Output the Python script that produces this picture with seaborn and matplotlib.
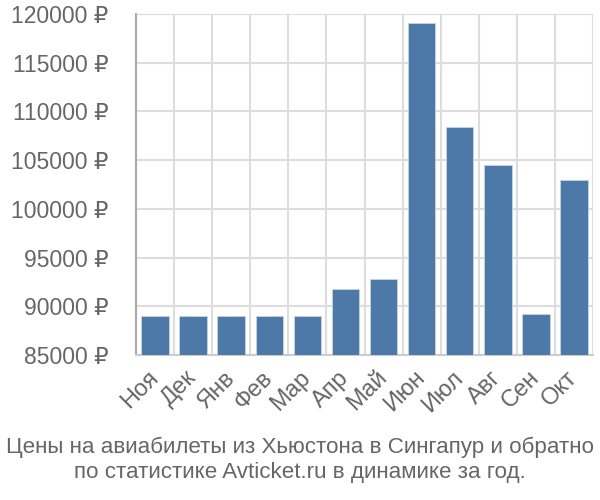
import matplotlib
matplotlib.use("Agg")
import matplotlib.pyplot as plt
import seaborn as sns
import pandas as pd
import numpy as np
from matplotlib.ticker import FixedLocator, FuncFormatter

months = ["Ноя", "Дек", "Янв", "Фев", "Мар", "Апр", "Май", "Июн", "Июл", "Авг", "Сен", "Окт"]
prices = [89000, 89000, 89000, 89000, 89000, 91800, 92800, 119100, 108400, 104500, 89200, 103000]
yticks = [85000, 90000, 95000, 100000, 105000, 110000, 115000, 120000]
caption = "Цены на авиабилеты из Хьюстона в Сингапур и обратно\nпо статистике Avticket.ru в динамике за год."

sns.set_style("white")
plt.rcParams['font.family'] = ['Liberation Sans', 'DejaVu Sans']

df = pd.DataFrame({"month": months, "price": prices})

fig = plt.figure(figsize=(6, 5), dpi=100)
ax = fig.add_axes([136/600, 1-355/500, (593-136)/600, (355-14)/500])

sns.barplot(data=df, x="month", y="price", color="#4d79a8", width=0.72,
            saturation=1, ax=ax, edgecolor="#c8d4e4", linewidth=0.6, zorder=3)

ax.set_ylim(85000, 120000)
ax.set_xlim(-0.5, len(months) - 0.5)
ax.yaxis.set_major_locator(FixedLocator(yticks))
ax.yaxis.set_major_formatter(FuncFormatter(lambda v, p: f"{int(v)} ₽"))

ax.set_xticks(np.arange(len(months)))
ax.set_xticklabels(months, rotation=45, ha="right", va="center", rotation_mode="anchor")
ax.set_xticks(np.arange(len(months) + 1) - 0.5, minor=True)
ax.tick_params(axis="x", which="major", length=0, pad=14, labelsize=17, labelcolor="#666666")
ax.tick_params(axis="x", which="minor", length=15, width=1.5, color="#dddddd")
ax.tick_params(axis="y", which="major", length=20, width=1.5, color="#dddddd", labelsize=16.5,
               labelcolor="#666666", pad=0)

ax.grid(True, axis="y", which="major", color="#dddddd", linewidth=1.5, zorder=0)
ax.grid(True, axis="x", which="minor", color="#dddddd", linewidth=1.5, zorder=0)
ax.set_axisbelow(True)

for s in ["top", "right"]:
    ax.spines[s].set_visible(False)
ax.spines["left"].set_color("#aaaaaa")
ax.spines["left"].set_linewidth(1.5)
ax.spines["left"].set_bounds(85000, 120000)
ax.spines["bottom"].set_color("#cccccc")
ax.spines["bottom"].set_linewidth(1.5)

ax.set_xlabel("")
ax.set_ylabel("")

fig.text(0.5, 1 - 460/500, caption, ha="center", va="center", fontsize=16.1,
         color="#666666", linespacing=1.25)

fig.savefig("out.png", dpi=100)
